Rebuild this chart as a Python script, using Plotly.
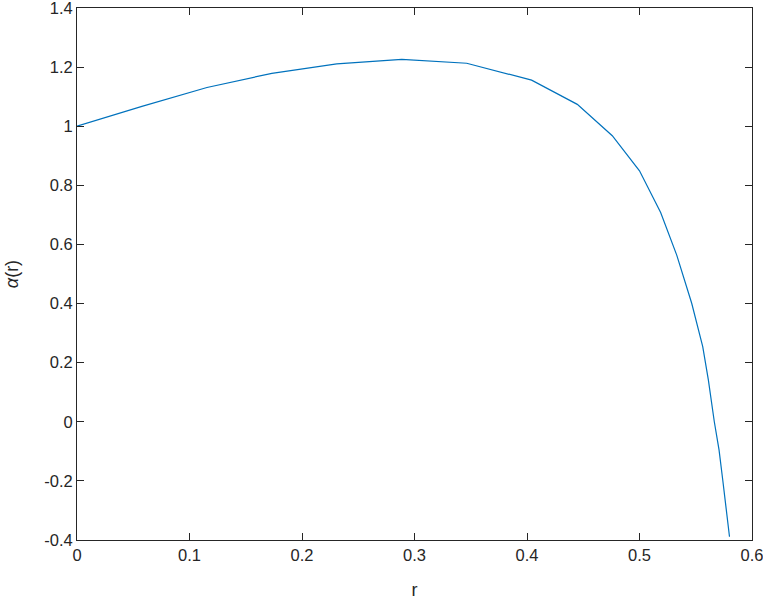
import plotly.graph_objects as go

# r samples and alpha(r) values
r = [0, 0.0577, 0.1155, 0.1732, 0.2309, 0.2887, 0.3464, 0.4041, 0.4447,
     0.4758, 0.5000, 0.5188, 0.5331, 0.5464, 0.5562, 0.5612, 0.5665,
     0.5707, 0.5740, 0.5769, 0.5800]
alpha = [1.0, 1.067, 1.131, 1.179, 1.211, 1.226, 1.213, 1.156, 1.074,
         0.968, 0.849, 0.708, 0.564, 0.401, 0.254, 0.142, 0.0,
         -0.095, -0.197, -0.293, -0.389]

x_ticks = [0, 0.1, 0.2, 0.3, 0.4, 0.5, 0.6]
x_labels = ["0", "0.1", "0.2", "0.3", "0.4", "0.5", "0.6"]
y_ticks = [-0.4, -0.2, 0, 0.2, 0.4, 0.6, 0.8, 1.0, 1.2, 1.4]
y_labels = ["-0.4", "-0.2", "0", "0.2", "0.4", "0.6", "0.8", "1", "1.2", "1.4"]

axis_color = "#262626"
font = dict(family="Liberation Sans, Arial, sans-serif", size=16.5, color=axis_color)
title_font = dict(family="Liberation Sans, Arial, sans-serif", size=18, color=axis_color)

fig = go.Figure()
fig.add_trace(go.Scatter(x=r, y=alpha, mode="lines",
                         line=dict(color="#0072BD", width=1.2),
                         showlegend=False))

common = dict(showgrid=False, zeroline=False, showline=True, linecolor=axis_color,
              linewidth=1, mirror="allticks", ticks="inside", ticklen=7,
              tickcolor=axis_color, tickfont=font, automargin=False,
              ticklabeloverflow="allow")

fig.update_xaxes(range=[0, 0.6], tickvals=x_ticks, ticktext=x_labels,
                 title=dict(text="r", font=title_font, standoff=20),
                 **common)
fig.update_yaxes(range=[-0.4, 1.4], tickvals=y_ticks, ticktext=y_labels,
                 title=dict(text="<i>α</i>(r)", font=title_font, standoff=20),
                 **common)

fig.update_layout(width=763, height=600, plot_bgcolor="white", paper_bgcolor="white",
                  margin=dict(l=77, r=11, t=8, b=60))

# drop the default page margin so the figure sits at the window's corner
fig.write_html("out.html", config={"displayModeBar": False},
               post_script="document.body.style.margin='0';")
